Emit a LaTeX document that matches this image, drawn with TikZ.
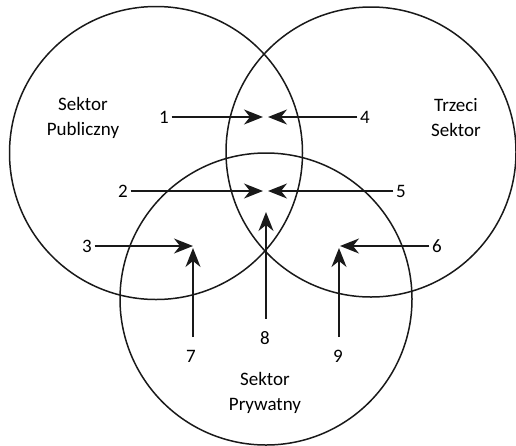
\documentclass[tikz,border=0pt]{standalone}
\usepackage{fontspec}
\setmainfont{Carlito}
\usetikzlibrary{arrows.meta,positioning}
\tikzset{
  sektor/.style={draw=black!90,line width=1.5pt},
  strz/.style={-{Stealth[length=19pt,width=15pt,inset=6pt]},line width=1.5pt,draw=black!90},
  nr/.style={inner sep=2.5pt,font=\fontsize{19}{23}\selectfont},
  nazwa/.style={align=center,font=\fontsize{19}{25}\selectfont}
}

\begin{document}
\begin{tikzpicture}[x=1pt,y=-1pt]
\useasboundingbox (0,0) rectangle (516,445);
% trzy sektory
\draw[sektor] (156,153) circle (146.5);
\draw[sektor] (371,152) circle (145);
\draw[sektor] (266,299) circle (146);
\node[nazwa] (pub) at (83,118) {Sektor\\Publiczny};
\node[nazwa] (trz) at (456,118) {Trzeci\\Sektor};
\node[nazwa] (pry) at (265,393) {Sektor\\Prywatny};
% groty strzalek
\coordinate (t1) at (263,117); \coordinate (t4) at (268,117);
\coordinate (t2) at (263,191); \coordinate (t5) at (268,191);
\coordinate (t3) at (193,246); \coordinate (t6) at (340,246);
\coordinate (t7) at (193,248); \coordinate (t8) at (266,212);
\coordinate (t9) at (339,248);
% numery
\node[nr] (n1) at (164,117) {1};
\node[nr] (n4) at (365,117) {4};
\node[nr] (n2) at (123,191) {2};
\node[nr] (n5) at (401,191) {5};
\node[nr] (n3) at (87,246) {3};
\node[nr] (n6) at (437,246) {6};
\node[nr] (n7) at (191,356) {7};
\node[nr] (n8) at (265,338) {8};
\node[nr] (n9) at (338,356) {9};
% strzalki
\foreach \n in {1,...,6}
  \draw[strz] (n\n) -- (t\n);
\foreach \n in {7,8,9}
  \draw[strz,shorten <=10pt] (n\n.north -| t\n) -- (t\n);
\end{tikzpicture}
\end{document}
